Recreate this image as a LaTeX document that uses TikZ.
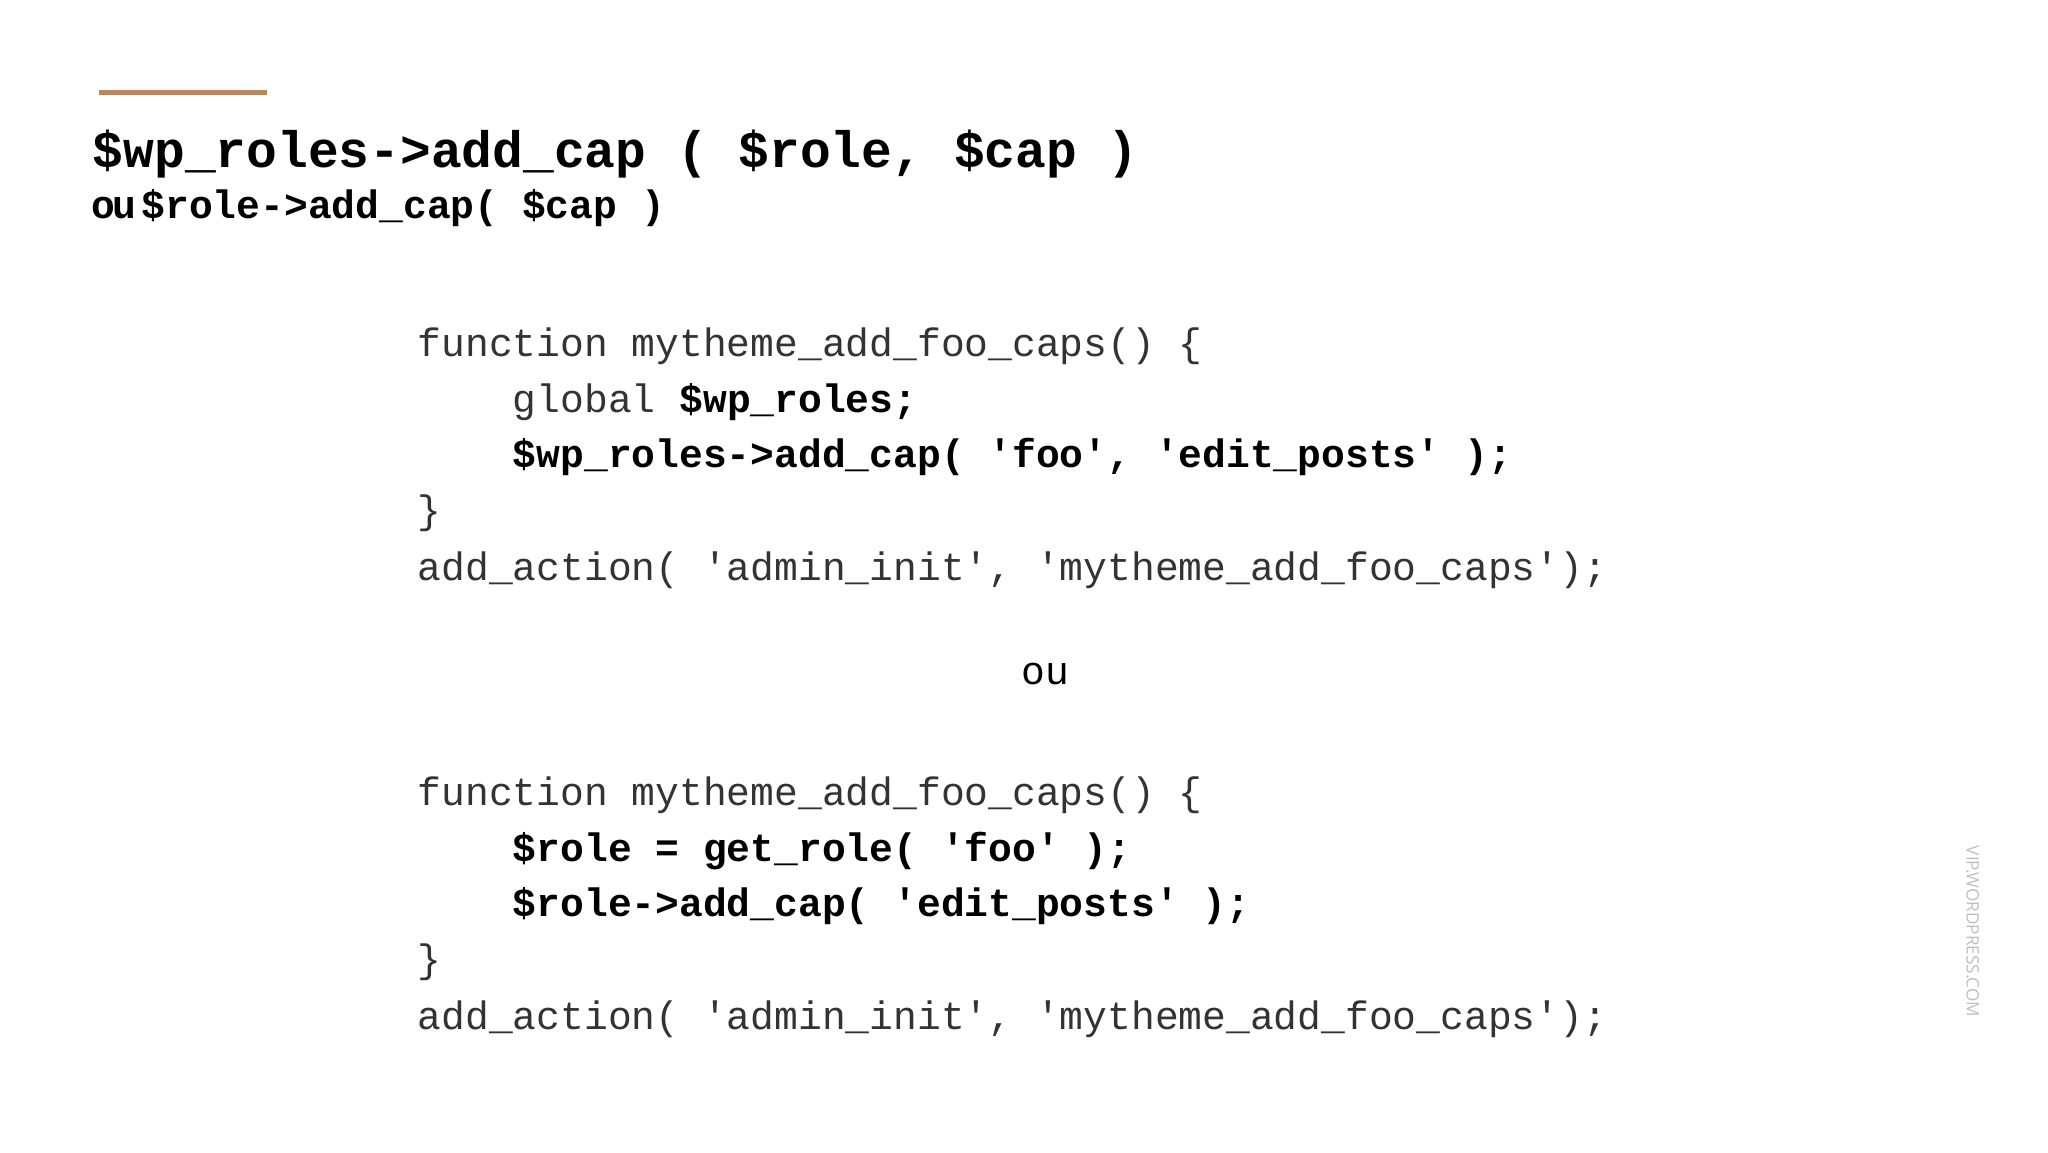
\documentclass[tikz,border=0pt]{standalone}
\usepackage{fontspec}
\setmonofont{Liberation Mono}
\setsansfont{Open Sans}
\definecolor{accent}{HTML}{B8885C}
\definecolor{codegray}{HTML}{333333}
\begin{document}
\begin{tikzpicture}[x=1pt,y=-1pt,
  code/.style={anchor=base west,inner sep=0pt,font=\fontsize{30}{30}\ttfamily,text=codegray},
  bcode/.style={anchor=base west,inner sep=0pt,font=\fontsize{30}{30}\ttfamily\bfseries,text=black}]
\useasboundingbox (0,0) rectangle (1550,872);
\fill[white] (0,0) rectangle (1550,872);
\draw[accent,line width=4pt] (75,70) -- (202,70);
\node[anchor=base west,inner sep=0pt,font=\fontsize{38.8}{38.8}\ttfamily\bfseries] (title) at (70,127) {\$wp\_roles->add\_cap ( \$role, \$cap )};
\node[anchor=base west,inner sep=0pt,font=\fontsize{30}{30}\ttfamily\bfseries] (sub) at (69,165) {o\kern-2ptu\kern4pt\$role->add\_cap( \$cap )};
% block 1
\node[code] (a1) at (316,270) {function mytheme\_add\_foo\_caps() \{};
\node[code] (a2) at (388,312) {global \textbf{\color{black}\$wp\_roles;}};
\node[bcode] (a3) at (388,354) {\$wp\_roles->add\_cap( 'foo', 'edit\_posts' );};
\node[code] (a4) at (316,396) {\}};
\node[code] (a5) at (316,439) {add\_action( 'admin\_init', 'mytheme\_add\_foo\_caps');};
\node[code,text=black] (ou) at (773,518) {ou};
% block 2
\node[code] (b1) at (316,610) {function mytheme\_add\_foo\_caps() \{};
\node[bcode] (b2) at (388,652) {\$role = get\_role( 'foo' );};
\node[bcode] (b3) at (388,694) {\$role->add\_cap( 'edit\_posts' );};
\node[code] (b4) at (316,736) {\}};
\node[code] (b5) at (316,779) {add\_action( 'admin\_init', 'mytheme\_add\_foo\_caps');};
\node[rotate=-90,anchor=west,inner sep=0pt,font=\fontsize{13}{13}\sffamily,text=black!25] (vip) at (1493,640) {VIP.WORDPRESS.COM};
\end{tikzpicture}
\end{document}
